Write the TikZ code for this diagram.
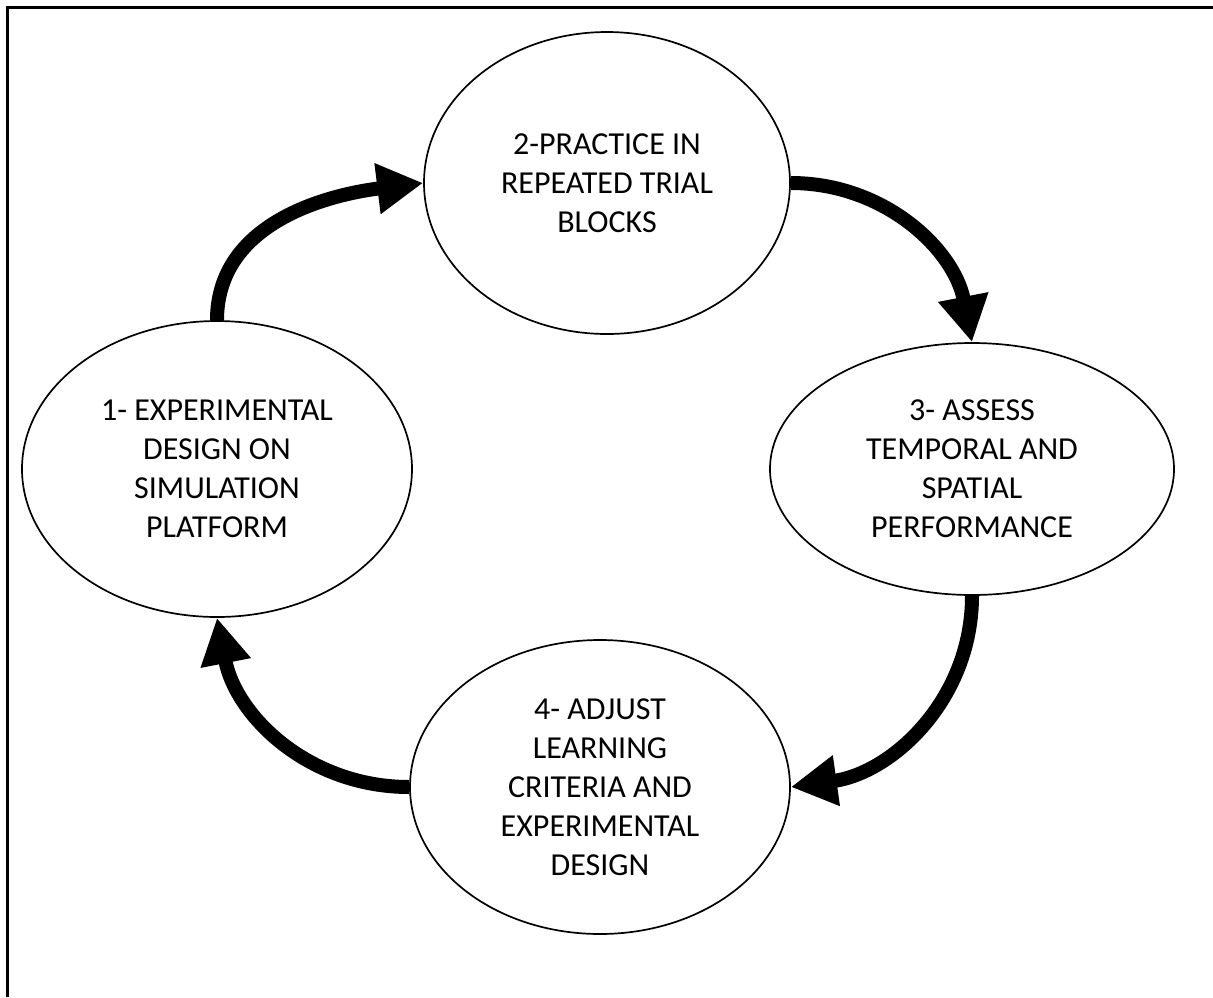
\documentclass[tikz,border=0pt]{standalone}
\usepackage{fontspec}
\setmainfont{Carlito}
\usetikzlibrary{shapes.geometric,arrows.meta}
\begin{document}
\begin{tikzpicture}[x=1pt,y=-1pt,
  stage/.style={draw=black,line width=1.7pt,ellipse,inner sep=0pt,align=center,
    font=\fontsize{32}{39}\selectfont},
  cyc/.style={line width=14pt,-{Triangle[length=46pt,width=48pt]}}]
\useasboundingbox (0,0) rectangle (1213,997);
\draw[line width=2.4pt] (1213,7.5) -- (7.5,7.5) -- (7.5,997);
\node[stage,minimum width=390pt,minimum height=296pt] (e1) at (217,469)
  {1- EXPERIMENTAL\\DESIGN ON\\SIMULATION\\PLATFORM};
\node[stage,minimum width=366pt,minimum height=302pt] (e2) at (607,183)
  {2-PRACTICE IN\\REPEATED TRIAL\\BLOCKS};
\node[stage,minimum width=404pt,minimum height=252pt] (e3) at (972,469)
  {3- ASSESS\\TEMPORAL AND\\SPATIAL\\PERFORMANCE};
\node[stage,minimum width=380pt,minimum height=294pt] (e4) at (600,787)
  {4- ADJUST\\LEARNING\\CRITERIA AND\\EXPERIMENTAL\\DESIGN};
\draw[cyc] (e1.north) to[out=90,in=187] (e2.west);
\draw[cyc] (e2.east) to[out=0,in=101] (e3.north);
\draw[cyc] (e3.south) to[out=270,in=8] (e4.east);
\draw[cyc] (e4.west) to[out=180,in=281] (e1.south);
\end{tikzpicture}
\end{document}
